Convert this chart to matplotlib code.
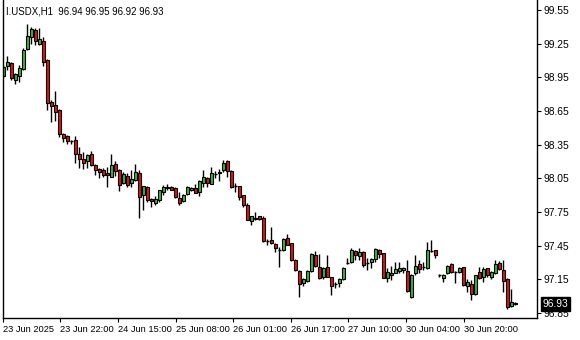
import numpy as np
import matplotlib
matplotlib.use("Agg")
import matplotlib.pyplot as plt
import matplotlib.transforms as mtransforms

plt.rcParams["font.family"] = ["Liberation Sans", "DejaVu Sans"]

symbol = "I.USDX,H1"
last_ohlc = ["96.94", "96.95", "96.92", "96.93"]

opens = [98.96, 99.05, 99.08, 98.93, 98.96, 99.02, 99.20, 99.31, 99.37, 99.245,
         99.27, 99.105, 98.73, 98.70, 98.66, 98.445, 98.43, 98.38, 98.39, 98.27,
         98.22, 98.20, 98.27, 98.17, 98.13, 98.12, 98.10, 98.065, 98.175, 98.125,
         98.005, 98.07, 98.005, 98.035, 98.10, 97.90, 97.97, 97.865, 97.83, 97.857,
         97.93, 97.96, 97.97, 97.96, 97.87, 97.85, 97.91, 97.95, 97.96, 97.93,
         98.01, 98.05, 97.995, 98.09, 98.10, 98.12, 98.20, 98.118, 97.985, 97.98,
         97.90, 97.81, 97.67, 97.685, 97.715, 97.70, 97.49, 97.50, 97.465, 97.415,
         97.41, 97.515, 97.47, 97.32, 97.227, 97.12, 97.137, 97.227, 97.366, 97.257,
         97.173, 97.257, 97.167, 97.108, 97.12, 97.15, 97.292, 97.30, 97.40, 97.36,
         97.396, 97.298, 97.30, 97.33, 97.41, 97.381, 97.158, 97.19, 97.21, 97.224,
         97.232, 97.224, 96.995, 97.203, 97.286, 97.262, 97.248, 97.405, 97.41, 97.185,
         97.158, 97.203, 97.283, 97.218, 97.218, 97.257, 97.093, 97.108, 97.018, 97.212,
         97.168, 97.248, 97.173, 97.203, 97.292, 97.232, 97.15, 96.915, 96.94]
highs = [99.06, 99.14, 99.09, 98.99, 99.06, 99.21, 99.425, 99.40, 99.39, 99.39,
         99.31, 99.11, 98.75, 98.83, 98.665, 98.45, 98.44, 98.39, 98.43, 98.33,
         98.28, 98.27, 98.29, 98.175, 98.14, 98.14, 98.15, 98.27, 98.20, 98.13,
         98.11, 98.095, 98.125, 98.18, 98.125, 97.98, 97.98, 97.87, 97.89, 97.95,
         97.99, 98.00, 97.98, 97.97, 97.93, 97.91, 97.98, 97.97, 98.00, 98.035,
         98.125, 98.065, 98.155, 98.115, 98.13, 98.21, 98.21, 98.125, 98.005, 97.98,
         97.905, 97.83, 97.715, 97.75, 97.715, 97.71, 97.505, 97.615, 97.47, 97.44,
         97.515, 97.55, 97.475, 97.327, 97.233, 97.165, 97.233, 97.387, 97.405, 97.375,
         97.257, 97.367, 97.173, 97.13, 97.165, 97.257, 97.337, 97.425, 97.41, 97.425,
         97.40, 97.342, 97.337, 97.425, 97.417, 97.385, 97.248, 97.27, 97.307, 97.307,
         97.262, 97.322, 97.195, 97.367, 97.322, 97.307, 97.485, 97.50, 97.41, 97.20,
         97.198, 97.277, 97.292, 97.224, 97.257, 97.262, 97.15, 97.143, 97.188, 97.262,
         97.257, 97.248, 97.224, 97.322, 97.315, 97.322, 97.158, 97.06, 96.95]
lows = [98.94, 99.015, 98.93, 98.89, 98.91, 99.015, 99.19, 99.25, 99.24, 99.24,
        99.05, 98.66, 98.55, 98.56, 98.42, 98.37, 98.355, 98.355, 98.19, 98.145,
        98.13, 98.14, 98.16, 98.08, 98.056, 98.06, 97.97, 98.06, 98.07, 97.94,
        97.995, 97.97, 97.97, 98.025, 97.70, 97.77, 97.84, 97.79, 97.81, 97.84,
        97.90, 97.945, 97.945, 97.87, 97.81, 97.84, 97.90, 97.94, 97.915, 97.895,
        97.975, 97.975, 97.995, 98.05, 98.025, 98.11, 98.065, 97.96, 97.93, 97.855,
        97.795, 97.675, 97.635, 97.675, 97.675, 97.485, 97.455, 97.465, 97.395, 97.257,
        97.405, 97.455, 97.315, 97.227, 96.995, 97.09, 97.127, 97.218, 97.262, 97.15,
        97.15, 97.167, 97.01, 97.07, 97.08, 97.143, 97.286, 97.292, 97.32, 97.32,
        97.262, 97.23, 97.248, 97.306, 97.336, 97.158, 97.123, 97.144, 97.203, 97.21,
        97.203, 97.04, 96.986, 97.188, 97.21, 97.232, 97.242, 97.39, 97.337, 97.17,
        97.128, 97.195, 97.203, 97.114, 97.21, 97.09, 97.04, 96.965, 97.01, 97.15,
        97.128, 97.173, 97.15, 97.197, 97.232, 97.04, 96.885, 96.906, 96.92]
closes = [99.04, 99.09, 98.94, 98.98, 99.03, 99.19, 99.32, 99.38, 99.27, 99.29,
          99.09, 98.72, 98.69, 98.64, 98.445, 98.41, 98.38, 98.38, 98.27, 98.22,
          98.19, 98.26, 98.17, 98.12, 98.11, 98.08, 98.08, 98.17, 98.115, 97.99,
          98.085, 97.99, 98.045, 98.11, 97.885, 97.98, 97.857, 97.85, 97.865, 97.945,
          97.97, 97.975, 97.95, 97.88, 97.83, 97.90, 97.97, 97.965, 97.92, 98.025,
          98.06, 98.005, 98.095, 98.09, 98.11, 98.185, 98.115, 97.975, 97.985, 97.885,
          97.81, 97.68, 97.715, 97.70, 97.69, 97.495, 97.49, 97.47, 97.425, 97.415,
          97.506, 97.46, 97.32, 97.23, 97.108, 97.153, 97.227, 97.375, 97.268, 97.164,
          97.248, 97.173, 97.09, 97.108, 97.15, 97.248, 97.292, 97.41, 97.365, 97.39,
          97.277, 97.298, 97.33, 97.417, 97.372, 97.164, 97.212, 97.21, 97.238, 97.253,
          97.247, 97.046, 97.188, 97.268, 97.24, 97.262, 97.41, 97.405, 97.366, 97.185,
          97.188, 97.268, 97.218, 97.218, 97.248, 97.10, 97.123, 97.018, 97.188, 97.158,
          97.238, 97.188, 97.218, 97.286, 97.238, 97.137, 96.906, 96.945, 96.93]

time_labels = ["23 Jun 2025", "23 Jun 22:00", "24 Jun 15:00", "25 Jun 08:00",
               "26 Jun 01:00", "26 Jun 17:00", "27 Jun 10:00", "30 Jun 04:00",
               "30 Jun 20:00"]
price_ticks = [99.55, 99.25, 98.95, 98.65, 98.35, 98.05, 97.75, 97.45, 97.15, 96.85]

up_color = "#3cb43c"
down_color = "#e01414"

o = np.array(opens)
h = np.array(highs)
l = np.array(lows)
c = np.array(closes)
x = np.arange(len(o))

fig = plt.figure(figsize=(5.8, 3.4), dpi=100)
ax = fig.add_axes([2.5 / 580, 22 / 340, 534.8 / 580, 318 / 340])

# wicks
ax.vlines(x, l, h, color="black", linewidth=1.0, zorder=1)

# bodies, doji drawn as a short dash
body_w = 0.72
doji = np.abs(c - o) < 0.004
colors = np.where(c >= o, up_color, down_color)
bottoms = np.minimum(o, c)
heights = np.abs(c - o)
ax.bar(x[~doji], heights[~doji], bottom=bottoms[~doji], width=body_w,
       color=colors[~doji], edgecolor="black", linewidth=0.8, zorder=2)
ax.hlines(c[doji], x[doji] - 0.45, x[doji] + 0.45, color="black",
          linewidth=1.0, zorder=2)

ax.set_xlim(-0.21, 133.5)
ax.set_ylim(96.805, 99.639)

ax.spines["top"].set_visible(False)
for s in ["left", "right", "bottom"]:
    ax.spines[s].set_linewidth(1.0)
    ax.spines[s].set_color("black")

ax.yaxis.tick_right()
ax.set_yticks(price_ticks)
ax.set_yticklabels([f"{p:.2f}" for p in price_ticks])
ax.tick_params(axis="y", direction="out", length=3, width=0.8, pad=1.5,
               labelsize=7.4, colors="black")

tick_pos = np.arange(len(time_labels)) * 14.4 - 0.15
ax.set_xticks(tick_pos)
ax.set_xticklabels(time_labels, ha="left")
ax.tick_params(axis="x", direction="out", length=3, width=0.8, pad=2,
               labelsize=6.7, colors="black")

# header
ax.text(0.006, 0.965, symbol + "  " + " ".join(last_ohlc), transform=ax.transAxes,
        fontsize=6.9, color="black", ha="left", va="center")

# current price marker
trans = mtransforms.blended_transform_factory(ax.transAxes, ax.transData)
ax.text(1.0 + 5 / 534.8, c[-1], f"{c[-1]:.2f}", transform=trans, fontsize=7.4,
        color="white", ha="left", va="center", zorder=5,
        bbox=dict(facecolor="black", edgecolor="black", pad=1.2))

fig.savefig("out.png", dpi=100)
